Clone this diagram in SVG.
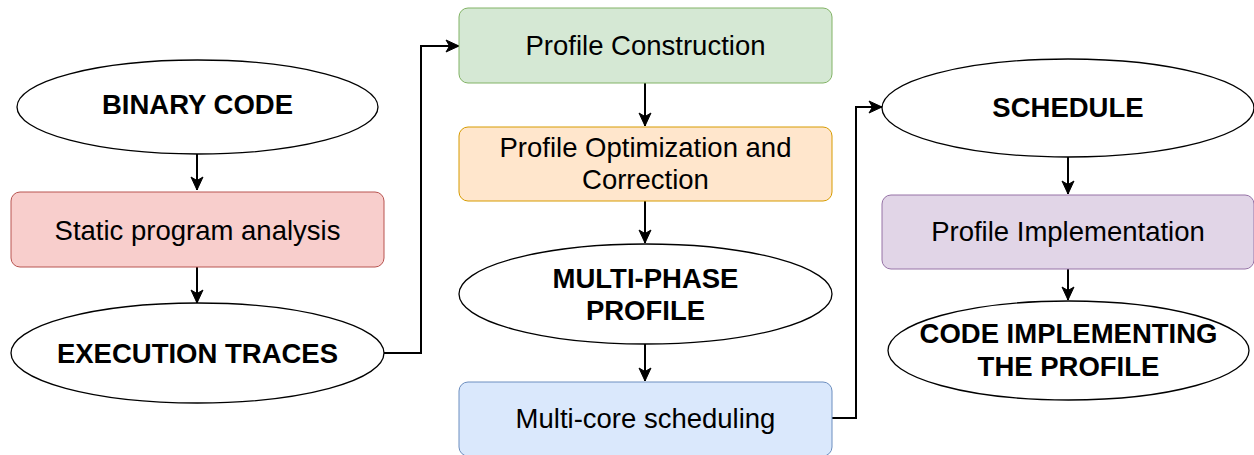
<svg xmlns="http://www.w3.org/2000/svg" width="1254" height="455" viewBox="0 0 1254 455">
<style>
  .t { font-family: "Liberation Sans", Arial, sans-serif; font-size: 27.5px; fill: #000; text-anchor: middle; }
  .b { font-weight: bold; }
  .ell { fill: #fff; stroke: #000; stroke-width: 1.3; }
  .conn { fill: none; stroke: #000; stroke-width: 2; }
</style>
<defs>
  <marker id="arr" markerUnits="userSpaceOnUse" markerWidth="16" markerHeight="16" viewBox="0 0 16 16" refX="14" refY="8" orient="auto">
    <path d="M1,2 L14,8 L1,14 L4.5,8 Z" fill="#000" stroke="#000" stroke-width="1"/>
  </marker>
</defs>
<rect width="1254" height="455" fill="#fff"/>

<g id="connectors">
  <path class="conn" d="M197,154 L197,190" marker-end="url(#arr)"/>
  <path class="conn" d="M197,267 L197,303" marker-end="url(#arr)"/>
  <path class="conn" d="M384,353 L421,353 L421,46 L459,46" marker-end="url(#arr)"/>
  <path class="conn" d="M645,83 L645,126" marker-end="url(#arr)"/>
  <path class="conn" d="M645,201 L645,243" marker-end="url(#arr)"/>
  <path class="conn" d="M645,344 L645,381" marker-end="url(#arr)"/>
  <path class="conn" d="M832,418 L856,418 L856,107 L882,107" marker-end="url(#arr)"/>
  <path class="conn" d="M1068,157 L1068,194" marker-end="url(#arr)"/>
  <path class="conn" d="M1068,269 L1068,300" marker-end="url(#arr)"/>
</g>

<g id="binary-code">
  <ellipse class="ell" cx="197.5" cy="107" rx="180.5" ry="47"/>
  <text class="t b" x="197.5" y="114">BINARY CODE</text>
</g>
<g id="static-analysis">
  <rect x="11" y="192" width="373" height="75" rx="9" fill="#f8cecc" stroke="#b85450" stroke-width="1"/>
  <text class="t" x="197.5" y="240">Static program analysis</text>
</g>
<g id="execution-traces">
  <ellipse class="ell" cx="197.5" cy="353" rx="186.5" ry="50"/>
  <text class="t b" x="197.5" y="363">EXECUTION TRACES</text>
</g>

<g id="profile-construction">
  <rect x="459" y="8" width="373" height="75" rx="9" fill="#d5e8d4" stroke="#82b366" stroke-width="1"/>
  <text class="t" x="645.5" y="55">Profile Construction</text>
</g>
<g id="profile-optimization">
  <rect x="459" y="127" width="373" height="74" rx="9" fill="#ffe6cc" stroke="#d79b00" stroke-width="1"/>
  <text class="t" x="645.5" y="157">Profile Optimization and</text>
  <text class="t" x="645.5" y="189">Correction</text>
</g>
<g id="multi-phase-profile">
  <ellipse class="ell" cx="645.5" cy="294" rx="186.5" ry="50"/>
  <text class="t b" x="645.5" y="288">MULTI-PHASE</text>
  <text class="t b" x="645.5" y="320">PROFILE</text>
</g>
<g id="multi-core-scheduling">
  <rect x="459" y="382" width="373" height="74" rx="9" fill="#dae8fc" stroke="#6c8ebf" stroke-width="1"/>
  <text class="t" x="645.5" y="428">Multi-core scheduling</text>
</g>

<g id="schedule">
  <ellipse class="ell" cx="1068" cy="108" rx="186" ry="49"/>
  <text class="t b" x="1068" y="117">SCHEDULE</text>
</g>
<g id="profile-implementation">
  <rect x="882" y="195" width="372" height="74" rx="9" fill="#e1d5e7" stroke="#9673a6" stroke-width="1"/>
  <text class="t" x="1068" y="241">Profile Implementation</text>
</g>
<g id="code-implementing">
  <ellipse class="ell" cx="1068.5" cy="350.5" rx="180.5" ry="49.5"/>
  <text class="t b" x="1068.5" y="343">CODE IMPLEMENTING</text>
  <text class="t b" x="1068.5" y="376">THE PROFILE</text>
</g>
</svg>
